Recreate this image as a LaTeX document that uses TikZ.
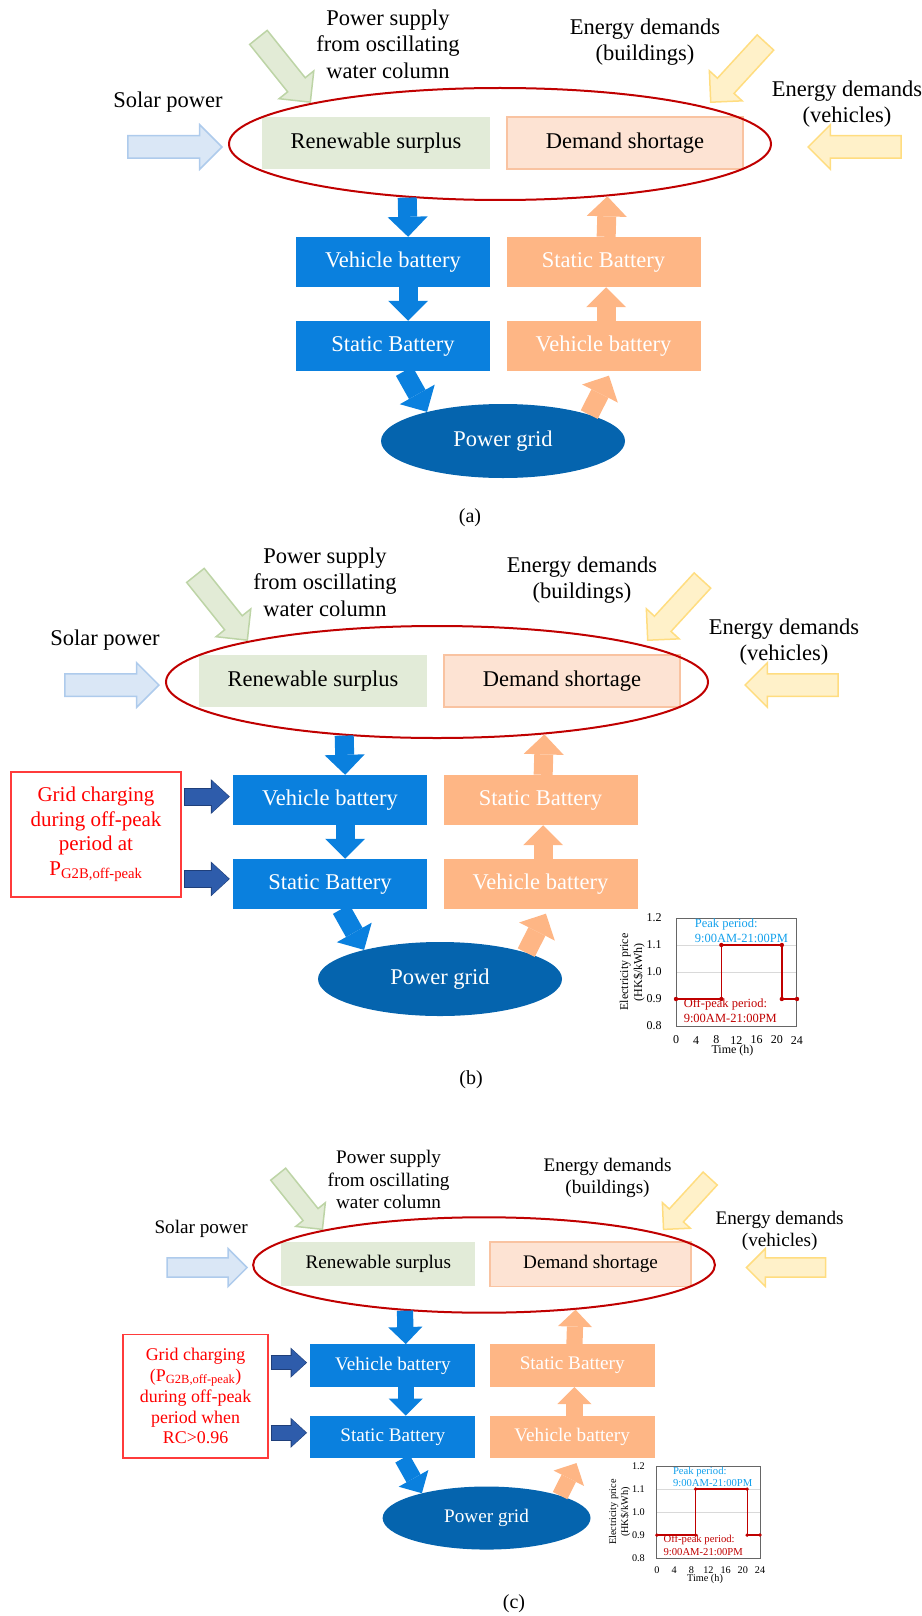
\documentclass[tikz,border=0pt]{standalone}
\usepackage{fontspec}
\setmainfont{Liberation Serif}
\usetikzlibrary{arrows.meta,shapes.geometric,shapes.arrows}

\definecolor{surplusfill}{HTML}{E2EBD8}
\definecolor{shortfill}{HTML}{FDE3D3}
\definecolor{shortline}{HTML}{F9C3A1}
\definecolor{battblue}{HTML}{0A80DE}
\definecolor{battorange}{HTML}{FEB685}
\definecolor{gridblue}{HTML}{0564AE}
\definecolor{ellred}{HTML}{C00000}
\definecolor{solarfill}{HTML}{DAE7F6}
\definecolor{solarline}{HTML}{AECBEC}
\definecolor{owcfill}{HTML}{E2EBD6}
\definecolor{owcline}{HTML}{BDD4A6}
\definecolor{demfill}{HTML}{FFF1C9}
\definecolor{demline}{HTML}{FFDD80}
\definecolor{chargeblue}{HTML}{2E5CAB}
\definecolor{chargeline}{HTML}{1F3F7A}
\definecolor{notered}{HTML}{FF3B3B}
\definecolor{peakblue}{HTML}{12A0EC}
\definecolor{offred}{HTML}{C00000}
\definecolor{gridgray}{HTML}{D9D9D9}
\definecolor{framegray}{HTML}{666666}

\tikzset{
  txt/.style={font=\fontsize{22.5}{26.5}\selectfont, align=center, inner sep=0pt},
  surplus/.style={txt, fill=surplusfill, minimum width=228pt, minimum height=52pt},
  shortage/.style={txt, fill=shortfill, draw=shortline, line width=1.5pt, minimum width=236pt, minimum height=52pt},
  bbox/.style={txt, fill=battblue, text=white, minimum width=194pt, minimum height=50pt},
  obox/.style={bbox, fill=battorange},
  inarrow/.style={single arrow, anchor=tip, minimum width=43pt, single arrow head extend=11pt, single arrow head indent=0pt, inner xsep=0pt, inner ysep=10.5pt, line width=1.5pt},
  bflow/.style={draw=battblue, line width=\shaftw pt, -{Triangle[width=\headw pt, length=\headl pt, line width=0pt]}},
  oflow/.style={bflow, draw=battorange},
  gflow/.style={draw=chargeblue, line width=\gshaft pt, -{Triangle[width=\ghead pt, length=\glen pt, line width=0pt]}, shorten <=3pt, shorten >=4pt,
    preaction={draw=chargeline, line width=\gshaft pt+2pt, -{Triangle[width=\ghead pt+3pt, length=\glen pt+2pt, line width=0pt]}, shorten <=2pt, shorten >=3pt}},
  gridnote/.style={draw=notered, line width=1.5pt, text=red, font=\fontsize{21}{24.5}\selectfont, align=center, minimum width=170pt, inner sep=2pt},
  chartframe/.style={draw=framegray, line width=1pt},
  gridline/.style={draw=gridgray, line width=1pt},
  priceline/.style={draw=offred, line width=\pricew pt},
  ticklabel/.style={font=\fontsize{12}{14}\selectfont, inner sep=1pt},
  chartnote/.style={font=\fontsize{12.5}{14.5}\selectfont, align=left, inner sep=0pt, anchor=west},
  caption/.style={font=\fontsize{20}{24}\selectfont}
}

% one panel of the energy flow, #1 = size of the block arrows
\newcommand{\flowpanel}[1]{%
  \pgfmathsetmacro\shaftw{19*#1}%
  \pgfmathsetmacro\headw{40*#1}%
  \pgfmathsetmacro\headl{20*#1}%
  \pgfmathsetmacro\gshaft{16*#1}%
  \pgfmathsetmacro\ghead{32*#1}%
  \pgfmathsetmacro\glen{17*#1}%
  \pgfmathsetmacro\pricew{1.5*#1}%
  % Texts
  \node[txt] (ows) at (388,44) {Power supply\\from oscillating\\water column};
  \node[txt] (edb) at (645,42) {Energy demands\\(buildings)};
  \node[txt] (edv) at (847,104) {Energy demands\\(vehicles)};
  \node[txt] (sol) at (168,102) {Solar power};
  % Inputs
  \node[inarrow, fill=solarfill, draw=solarline, minimum height=94pt] (solA) at (223,147) {};
  \node[inarrow, fill=owcfill, draw=owcline, minimum height=83pt, rotate=-51.3] (owcA) at (311,103) {};
  \node[inarrow, fill=demfill, draw=demline, minimum height=81pt, rotate=-132.5] (bldA) at (710,103) {};
  \node[inarrow, fill=demfill, draw=demline, minimum height=93pt, rotate=180] (vehA) at (807,147) {};
  % Boxes
  \node[surplus] (rs) at (376,143) {Renewable surplus};
  \node[shortage] (ds) at (625,143) {Demand shortage};
  \node[bbox] (vb) at (393,262) {Vehicle battery};
  \node[bbox] (sb) at (393,346) {Static Battery};
  \node[obox] (osb) at (603.5,262) {Static Battery};
  \node[obox] (ovb) at (603.5,346) {Vehicle battery};
  \node[ellipse, fill=gridblue, text=white, txt, minimum width=244pt, minimum height=74pt] (grid) at (503,441) {Power grid};
  \node[ellipse, draw=ellred, line width=2pt, minimum width=542pt, minimum height=112pt, inner sep=0pt] (ell) at (500,144) {};
  % Flows
  \draw[bflow] (ell.210) -- (vb.59);
  \draw[bflow] (vb.-59) -- (sb.59);
  \draw[bflow] (sb.-66) -- (grid.159);
  \draw[oflow, shorten >=5pt] (grid.17) -- (ovb.-73);
  \draw[oflow] (ovb.84) -- (osb.-84);
  \draw[oflow] (osb.84) -- (ell.-26);
}

% electricity price, #1 = left side of the frame
\newcommand{\pricechart}[1]{%
  \begin{scope}[shift={(#1,704)}]
  \begin{scope}[x=5.04pt, y=270pt]
    \draw[gridline] (0,1.0) -- (24,1.0) (0,1.1) -- (24,1.1);
    \draw[chartframe] (0,0.8) rectangle (24,1.2);
    \draw[priceline] (0,0.9) -- (9,0.9) -- (9,1.1) -- (21,1.1) -- (21,0.9) -- (24,0.9);
    \foreach \hr/\pr in {0/0.9,9/0.9,9/1.1,21/1.1,21/0.9,24/0.9}
      \fill[offred] (\hr,\pr) circle (2.2pt);
    \foreach \pr in {0.8,0.9,1.0,1.1,1.2}
      \node[ticklabel, anchor=east] at (-2.6,\pr) {\pr};
    \foreach \hr in {0,4,...,24}
      \node[ticklabel] at (\hr,0.748) {\hr};
    \node[ticklabel] at (11.2,0.708) {Time (h)};
    \node[ticklabel, rotate=90, align=center] at (-8.7,1.0) {Electricity price\\(HK\$/kWh)};
    \node[chartnote, text=peakblue] at (3.7,1.153) {Peak period:\\9:00AM-21:00PM};
    \node[chartnote, text=offred] at (1.5,0.856) {Off-peak period:\\9:00AM-21:00PM};
  \end{scope}
  \end{scope}}

\begin{document}
\begin{tikzpicture}[x=1pt, y=-1pt]
  \useasboundingbox (0,0) rectangle (921,1616);

  % (a)
  \begin{scope}[name prefix=a-]
    \flowpanel{1}
  \end{scope}
  \node[caption] (capa) at (470,518) {(a)};

  % (b)
  \begin{scope}[shift={(-63,538)}, name prefix=b-]
    \flowpanel{1}
    \node[gridnote, minimum height=125pt] (note) at (159,296.5) {Grid charging\\during off-peak\\period at\\P\textsubscript{G2B,off-peak}};
    \draw[gflow] (note.east |- vb.178) -- (vb.178);
    \draw[gflow] (note.east |- sb.177) -- (sb.177);
    \pricechart{739}
  \end{scope}
  \node[caption] (capb) at (471,1080) {(b)};

  % (c)
  \begin{scope}[shift={(58,1142.3)}, scale=0.852, transform shape, name prefix=c-]
    \flowpanel{0.852}
    \node[gridnote, minimum height=145pt] (note) at (161.5,297.8) {Grid charging\\(P\textsubscript{G2B,off-peak})\\during off-peak\\period when\\RC>0.96};
    \draw[gflow] (note.east |- vb.178) -- (vb.178);
    \draw[gflow] (note.east |- sb.177) -- (sb.177);
    \pricechart{703}
  \end{scope}
  \node[caption] (capc) at (514,1604) {(c)};
\end{tikzpicture}
\end{document}
